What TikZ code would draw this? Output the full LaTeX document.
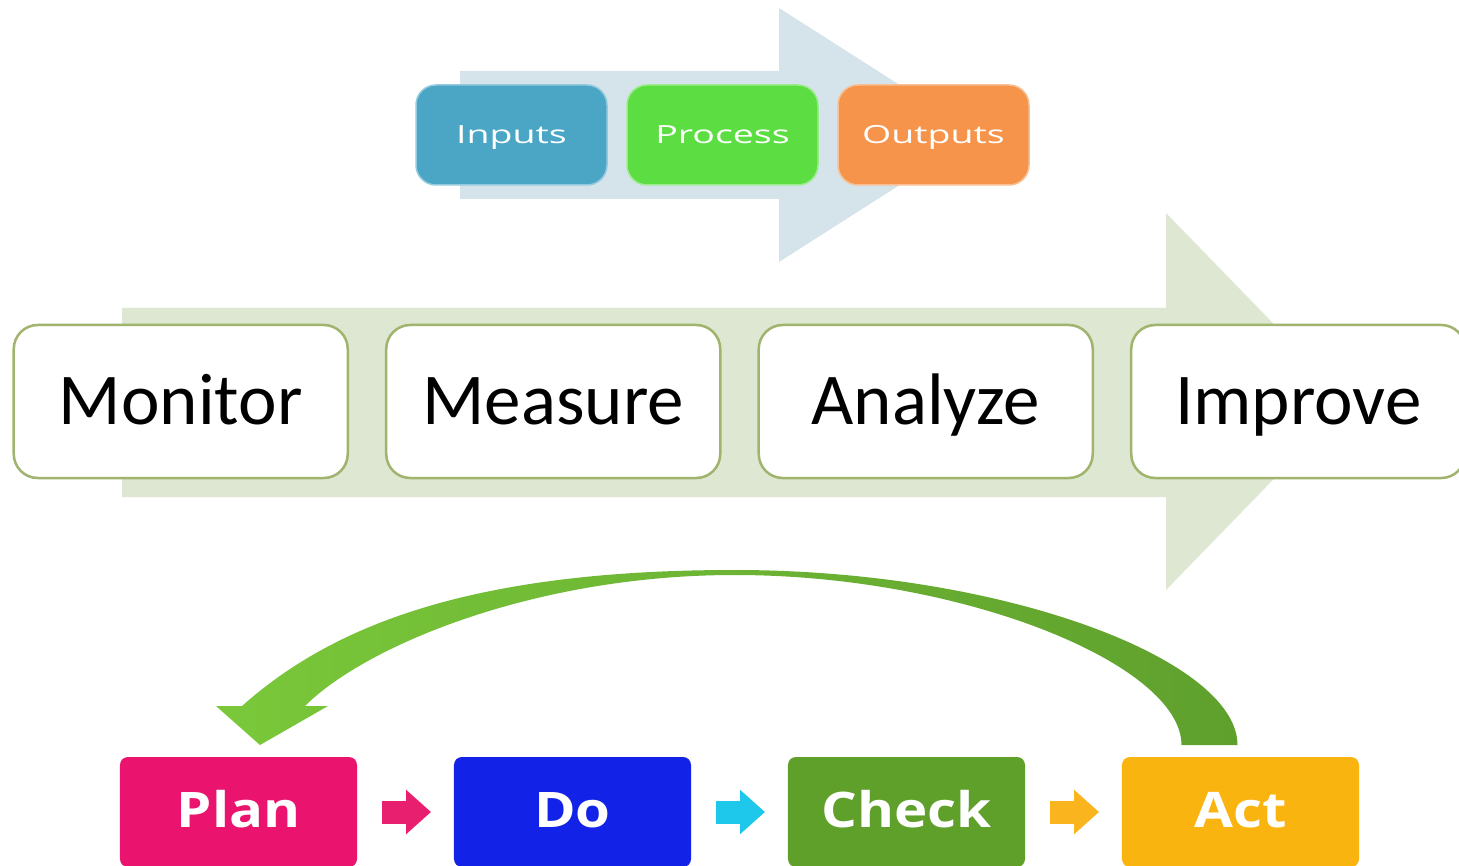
\documentclass[tikz,border=0pt]{standalone}
\usepackage{fontspec}
\usepackage{tikz}
\usetikzlibrary{matrix,calc,arrows.meta}
\newfontfamily\stagefont{Carlito}
\newfontfamily\tagfont[FakeStretch=1.5]{Open Sans}
\newfontfamily\stepfont[FakeStretch=1.15]{Open Sans}
\definecolor{tagback}{RGB}{213,227,234}
\definecolor{stageback}{RGB}{221,231,209}
\definecolor{inputblue}{RGB}{75,166,198}
\definecolor{processgreen}{RGB}{92,222,66}
\definecolor{outputorange}{RGB}{245,148,74}
\definecolor{stageline}{RGB}{160,180,110}
\definecolor{planpink}{RGB}{234,20,110}
\definecolor{doblue}{RGB}{18,34,230}
\definecolor{checkgreen}{RGB}{94,160,42}
\definecolor{actamber}{RGB}{250,180,15}
\definecolor{flowpink}{RGB}{232,30,110}
\definecolor{flowcyan}{RGB}{30,200,235}
\definecolor{flowamber}{RGB}{250,180,30}
\definecolor{looplight}{RGB}{122,200,58}
\definecolor{loopdark}{RGB}{95,160,45}
\newcommand*\tagwd  {191pt}
\newcommand*\taggap {18.5pt}
\newcommand*\stagewd {334pt}
\newcommand*\stagegap{36pt}
\newcommand*\stepwd {237pt}
\newcommand*\stepgap{97pt}
\tikzset{
    tagcell/.style   = {rounded corners=20pt, line width=1.5pt,
                    minimum width=\tagwd, minimum height=100pt, inner sep=0pt, outer sep=0pt,
                    text=white, font=\tagfont\fontsize{25}{30}\selectfont,
                    text height=18pt, text depth=0pt},
    inputcell/.style   = {tagcell,fill=inputblue,draw=inputblue!60!white},
    processcell/.style = {tagcell,fill=processgreen,draw=processgreen!60!white},
    outputcell/.style  = {tagcell,fill=outputorange,draw=outputorange!60!white},
    stagecell/.style = {rounded corners=24pt, draw=stageline, line width=2.5pt, fill=white,
                    minimum width=\stagewd, minimum height=153pt, inner sep=0pt, outer sep=0pt,
                    font=\stagefont\fontsize{73}{80}\selectfont,
                    text height=46pt, text depth=0pt},
    stepcell/.style  = {rounded corners=8pt,
                    minimum width=\stepwd, minimum height=110pt, inner sep=0pt, outer sep=0pt,
                    text=white, font=\stepfont\bfseries\fontsize{49}{55}\selectfont,
                    text height=35pt, text depth=5pt},
    plancell/.style  = {stepcell,fill=planpink},
    docell/.style    = {stepcell,fill=doblue},
    checkcell/.style = {stepcell,fill=checkgreen},
    actcell/.style   = {stepcell,fill=actamber},
    tagmatrix/.style   = {matrix of nodes, nodes={tagcell}, column sep=\taggap},
    stagematrix/.style = {matrix of nodes, nodes={stagecell}, column sep=\stagegap},
    stepmatrix/.style  = {matrix of nodes, nodes={stepcell}, column sep=\stepgap},
    flow/.style = {line width=23pt, -{Triangle[length=25pt,width=43pt]},
                    shorten <=25pt, shorten >=23pt},
  }

\begin{document}
\begin{tikzpicture}[x=1pt,y=-1pt]
        \useasboundingbox (0,0) rectangle (1459,866);
        \fill[white] (0,0) rectangle (1459,866);

        % Big pale arrows behind the rows
        \fill[stageback] (122,308) -- (1166,308) -- (1166,213) -- (1349,401.5)
            -- (1166,590) -- (1166,497) -- (122,497) -- cycle;
        \fill[tagback] (460,71) -- (779,71) -- (779,8) -- (978,135)
            -- (779,262) -- (779,199) -- (460,199) -- cycle;

        % Inputs -> Process -> Outputs
        \matrix (T) [tagmatrix] at (722.5,135) {
        |[inputcell]| Inputs & |[processcell]| Process & |[outputcell]| Outputs \\
        };

        % Monitor, Measure, Analyze, Improve
        \matrix (S) [stagematrix] at (739.5,401.5) {
        Monitor & Measure & Analyze & Improve \\
        };

        % Plan, Do, Check, Act
        \matrix (P) [stepmatrix] at (739.5,812) {
        |[plancell]| Plan & |[docell]| Do & |[checkcell]| Check & |[actcell]| Act \\
        };

        % Small arrows between the steps
        \foreach \a/\b/\c in {1/2/flowpink, 2/3/flowcyan, 3/4/flowamber} {
            \draw[flow, \c] (P-1-\a) -- (P-1-\b);
        }

        % Curved arrow from Act back to Plan
        \coordinate (loopin)  at ([shift={(-59,-12)}]P-1-4.north);
        \coordinate (loopout) at ([shift={(-3,-12)}]P-1-4.north);
        \coordinate (looptop) at ($(P-1-1.north)!0.5!(P-1-4.north)+(-5,-187)$);
        \coordinate (looptip) at ([shift={(21.5,-12)}]P-1-1.north);
        \shade[left color=looplight, right color=loopdark]
            (loopin) .. controls +(0,-80) and +(230,0) .. ([shift={(0,5)}]looptop)
            .. controls +(-200,0) and +(60,-60) .. ([shift={(66.5,-51)}]P-1-1.north)
            -- ++(23,0) -- (looptip) -- ([shift={(-22.5,-51)}]P-1-1.north) -- ++(26,0)
            .. controls +(90,-80) and +(-265,0) .. (looptop)
            .. controls +(270,0) and +(0,-85) .. (loopout) -- cycle;
    \end{tikzpicture}
\end{document}
